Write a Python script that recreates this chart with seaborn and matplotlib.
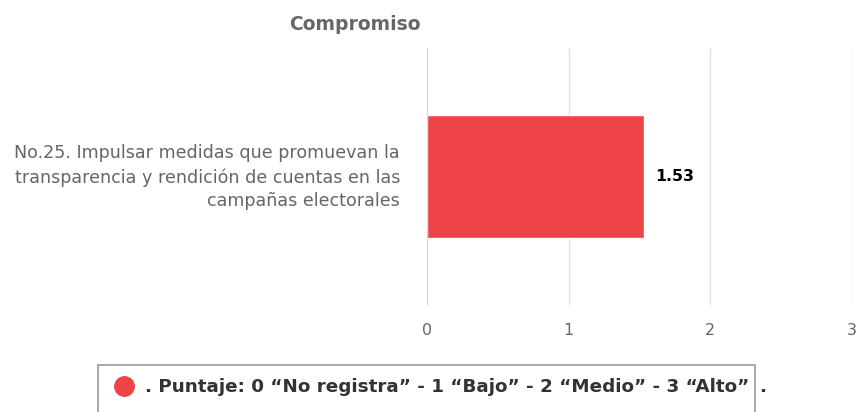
import matplotlib.pyplot as plt
import matplotlib.patches as mpatches
import matplotlib.transforms as mtransforms
import pandas as pd
import seaborn as sns

title = 'Compromiso'
categories = ['No.25. Impulsar medidas que promuevan la\ntransparencia y rendición de cuentas en las\ncampañas electorales']
values = [1.53]
ticks = [0, 1, 2, 3]
legend_label = '. Puntaje: 0 “No registra” - 1 “Bajo” - 2 “Medio” - 3 “Alto”'

bar_color = '#EE4447'
text_gray = '#666666'

df = pd.DataFrame({'compromiso': categories, 'puntaje': values})

sns.set_style('white')
plt.rcParams['font.family'] = ['DejaVu Sans']

fig = plt.figure(figsize=(8.56, 4.12), dpi=100)
ax = fig.add_axes([427 / 856, 1 - 305 / 412, 425 / 856, 257 / 412])

sns.barplot(data=df, x='puntaje', y='compromiso', color=bar_color,
            width=0.48, saturation=1, ax=ax, zorder=3)

ax.set_xlim(0, 3)
ax.set_ylim(0.5, -0.5)
ax.set_xticks(ticks)
ax.set_xticklabels([str(t) for t in ticks], color=text_gray, fontsize=11.5)
ax.tick_params(axis='x', length=0, pad=13)
ax.tick_params(axis='y', length=0, pad=19.5)
# nudge the category label up a few pixels
shift_up = mtransforms.ScaledTranslation(0, 4 / 100, fig.dpi_scale_trans)
for lbl in ax.get_yticklabels():
    lbl.set_color(text_gray)
    lbl.set_fontsize(12.6)
    lbl.set_horizontalalignment('right')
    lbl.set_linespacing(1.38)
    lbl.set_transform(lbl.get_transform() + shift_up)
ax.set_xlabel('')
ax.set_ylabel('')

ax.grid(axis='x', color='#E3E3E3', linewidth=1, zorder=0)
ax.axvline(0, color='#CCD6EB', linewidth=1.5, zorder=4)
for side in ['top', 'right', 'bottom', 'left']:
    ax.spines[side].set_visible(False)

for p, v in zip(ax.patches, values):
    ax.text(v + 0.08, p.get_y() + p.get_height() / 2, f'{v:.2f}',
            va='center', ha='left', fontsize=11.3, fontweight='bold', color='black')

fig.text(355 / 856, 1 - 25 / 412, title, ha='center', va='center',
         fontsize=13.5, fontweight='bold', color=text_gray)

# legend box (cut off at the bottom of the picture)
fig.patches.append(mpatches.Rectangle((98 / 856, -0.05), (755 - 98) / 856, 0.05 + (412 - 365) / 412,
                                      transform=fig.transFigure, facecolor='white',
                                      edgecolor='#999999', linewidth=1.2))
fig.legend(handles=[plt.Line2D([], [], marker='o', linestyle='', markersize=14,
                               markerfacecolor=bar_color, markeredgecolor=bar_color)],
           labels=[legend_label], loc='center left',
           bbox_to_anchor=(106 / 856, 1 - 387 / 412), frameon=False,
           prop={'weight': 'bold', 'size': 13.2}, handletextpad=0.62,
           borderpad=0, handlelength=1.0)
fig.text(759 / 856, 1 - 387 / 412, '.', ha='left', va='center',
         fontsize=13.2, fontweight='bold', color='#333333')
for t in fig.legends[0].get_texts():
    t.set_color('#333333')

fig.savefig('out.png', dpi=100)
